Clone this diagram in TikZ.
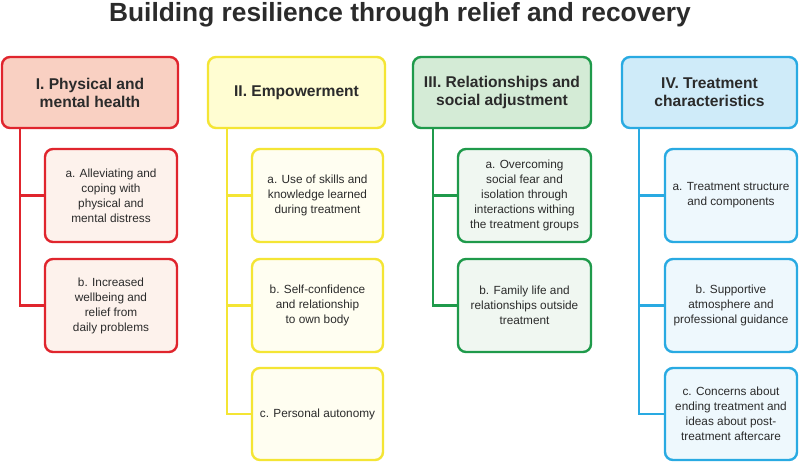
\documentclass[tikz,border=0pt]{standalone}
\usepackage{fontspec}
\setmainfont{Liberation Sans}
\definecolor{txt}{HTML}{2B2B2B}
\definecolor{rB}{HTML}{E0252D}\definecolor{rH}{HTML}{F9D0C2}\definecolor{rS}{HTML}{FDF2EC}
\definecolor{yB}{HTML}{F4E534}\definecolor{yH}{HTML}{FFFDD2}\definecolor{yS}{HTML}{FFFEF1}
\definecolor{gB}{HTML}{1F9A4B}\definecolor{gH}{HTML}{D4EBD6}\definecolor{gS}{HTML}{F0F7F1}
\definecolor{bB}{HTML}{29AAE2}\definecolor{bH}{HTML}{CFEBF9}\definecolor{bS}{HTML}{EEF8FD}
\begin{document}
\begin{tikzpicture}[x=1pt,y=-1pt,
  box/.style={draw, line width=2.4pt, rounded corners=8pt, inner sep=0pt, align=center, text=txt},
  hbox/.style={box, minimum height=71pt, font=\fontsize{15.6}{18}\selectfont\bfseries},
  sbox/.style={box, font=\fontsize{11.8}{15}\selectfont},
  conn/.style={line width=2.4pt}]
\fill[white] (0,0) rectangle (800,463);
\useasboundingbox (0,0) rectangle (800,463);
\node[font=\fontsize{26.3}{30}\selectfont\bfseries, text=txt, anchor=base] (title) at (400,21.5) {Building resilience through relief and recovery};
% headers
\node[hbox, draw=rB, fill=rH, minimum width=176pt] (hI) at (90,92.5) {I. Physical and\\mental health};
\node[hbox, draw=yB, fill=yH, minimum width=177pt] (hII) at (296.5,92.5) {II. Empowerment};
\node[hbox, draw=gB, fill=gH, minimum width=178pt] (hIII) at (502,92.5) {III. Relationships and\\social adjustment};
\node[hbox, draw=bB, fill=bH, minimum width=175pt] (hIV) at (709.5,92.5) {IV. Treatment\\characteristics};
% sub boxes
\node[sbox, draw=rB, fill=rS, minimum width=132pt, minimum height=93pt] (Ia) at (111,195.5) {a. Alleviating and\\coping with\\physical and\\mental distress};
\node[sbox, draw=rB, fill=rS, minimum width=132pt, minimum height=93pt] (Ib) at (111,305.5) {b. Increased\\wellbeing and\\relief from\\daily problems};
\node[sbox, draw=yB, fill=yS, minimum width=131pt, minimum height=93pt] (IIa) at (317.5,195.5) {a. Use of skills and\\knowledge learned\\during treatment};
\node[sbox, draw=yB, fill=yS, minimum width=131pt, minimum height=93pt] (IIb) at (317.5,305.5) {b. Self-confidence\\and relationship\\to own body};
\node[sbox, draw=yB, fill=yS, minimum width=131pt, minimum height=92pt] (IIc) at (317.5,414) {c. Personal autonomy};
\node[sbox, draw=gB, fill=gS, minimum width=133pt, minimum height=93pt] (IIIa) at (524.5,195.5) {a. Overcoming\\social fear and\\isolation through\\interactions withing\\the treatment groups};
\node[sbox, draw=gB, fill=gS, minimum width=133pt, minimum height=93pt] (IIIb) at (524.5,305.5) {b. Family life and\\relationships outside\\treatment};
\node[sbox, draw=bB, fill=bS, minimum width=132pt, minimum height=93pt] (IVa) at (731,195.5) {a. Treatment structure\\and components};
\node[sbox, draw=bB, fill=bS, minimum width=132pt, minimum height=93pt] (IVb) at (731,305.5) {b. Supportive\\atmosphere and\\professional guidance};
\node[sbox, draw=bB, fill=bS, minimum width=132pt, minimum height=92pt] (IVc) at (731,414) {c. Concerns about\\ending treatment and\\ideas about post-\\treatment aftercare};
% trunks
\coordinate (tI) at (20,128);
\coordinate (tII) at (227,128);
\coordinate (tIII) at (433,128);
\coordinate (tIV) at (639,128);
\draw[conn, draw=rB] (tI) |- (Ib.west);
\draw[conn, draw=rB] (Ia.west -| tI) -- (Ia.west);
\draw[conn, draw=yB] (tII) |- (IIc.west);
\draw[conn, draw=yB] (IIa.west -| tII) -- (IIa.west);
\draw[conn, draw=yB] (IIb.west -| tII) -- (IIb.west);
\draw[conn, draw=gB] (tIII) |- (IIIb.west);
\draw[conn, draw=gB] (IIIa.west -| tIII) -- (IIIa.west);
\draw[conn, draw=bB] (tIV) |- (IVc.west);
\draw[conn, draw=bB] (IVa.west -| tIV) -- (IVa.west);
\draw[conn, draw=bB] (IVb.west -| tIV) -- (IVb.west);
\end{tikzpicture}
\end{document}
